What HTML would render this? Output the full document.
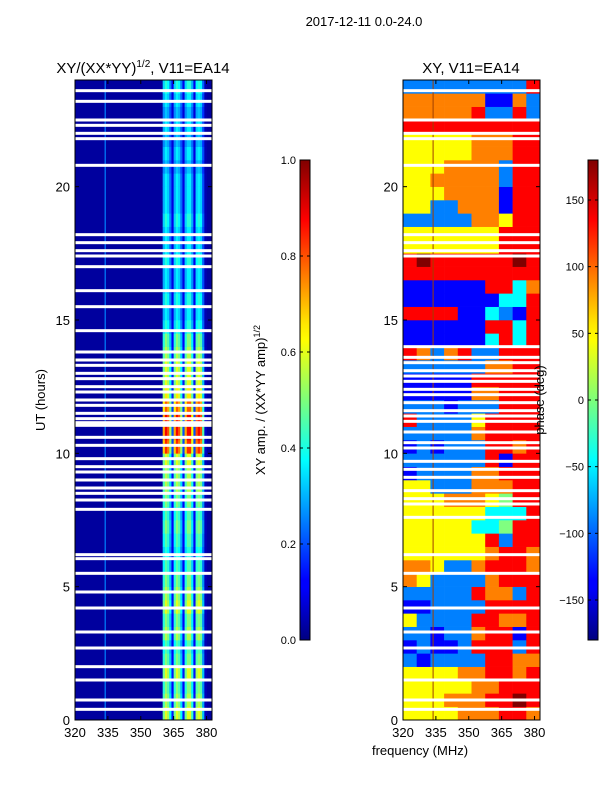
<!DOCTYPE html>
<html><head><meta charset="utf-8"><style>
body{margin:0;background:#fff;}
svg text{font-family:"Liberation Sans",sans-serif;}
</style></head><body>
<svg id="fig" width="600" height="800" xmlns="http://www.w3.org/2000/svg">
<defs>
<linearGradient id="jetg" x1="0" y1="1" x2="0" y2="0">
<stop offset="0" stop-color="#000080"/><stop offset="0.11" stop-color="#0000ff"/><stop offset="0.125" stop-color="#0000ff"/>
<stop offset="0.34" stop-color="#00dcff"/><stop offset="0.375" stop-color="#00ffff"/><stop offset="0.5" stop-color="#7dff7a"/>
<stop offset="0.625" stop-color="#ffff00"/><stop offset="0.66" stop-color="#ffe600"/><stop offset="0.875" stop-color="#ff0000"/><stop offset="1" stop-color="#800000"/>
</linearGradient>
</defs>
<text x="364" y="26" font-size="13" text-anchor="middle">2017-12-11 0.0-24.0</text>
<text x="143" y="73" font-size="15" text-anchor="middle">XY/(XX*YY)<tspan font-size="10" dy="-6">1/2</tspan><tspan dy="6">, V11=EA14</tspan></text>
<text x="471" y="73" font-size="15" text-anchor="middle">XY, V11=EA14</text>
<text x="45" y="400" font-size="13" text-anchor="middle" transform="rotate(-90 45 400)">UT (hours)</text>
<text x="420" y="755" font-size="13" text-anchor="middle">frequency (MHz)</text>
<text x="265" y="400" font-size="13" text-anchor="middle" transform="rotate(-90 265 400)">XY amp. / (XX*YY amp)<tspan font-size="9" dy="-5">1/2</tspan></text>
<g id="left"></g>
<g id="right"></g>
<g id="cb"></g>
<text x="544" y="400" font-size="13" text-anchor="middle" transform="rotate(-90 544 400)">phase (deg)</text>
</svg>
<script>
// ---- data ----
const hourTicks=[0,5,10,15,20];
const freqTicks=[320,335,350,365,380];
const ampTicks=[0.0,0.2,0.4,0.6,0.8,1.0];
const phaseTicks=[-150,-100,-50,0,50,100,150];
// bright-band level per half hour (0..24h)
const ampLevels=[0.6,0.55,0.5,0.6,0.5,0.45,0.55,0.5,0.6,0.55,0.5,0.45,0.4,0.45,0.5,0.45,0.5,0.55,0.55,0.6,0.85,0.9,0.9,0.8,0.65,0.6,0.6,0.55,0.5,0.4,0.35,0.4,0.35,0.35,0.4,0.35,0.35,0.4,0.35,0.35,0.35,0.3,0.35,0.3,0.35,0.3,0.35,0.4];
// spectral profile, 1 MHz channels starting 358 MHz
const ampProfileStart=358;
const ampProfile=[0,0,0.8,1,0.9,0.6,0.2,0.8,1,0.9,0.6,0.2,0.8,1,1,0.7,0.2,0.9,1,0.9,0.5,0.05,0,0];
const ampBase=0.03;
// flagged (white) times in hours
const flagsLeft=[0.4,0.75,1.5,2.0,2.7,3.3,4.2,4.8,5.5,6.05,6.2,7.9,8.25,8.5,8.7,9.0,9.3,9.5,9.8,10.3,10.6,11.05,11.15,11.3,11.5,11.8,12.0,12.3,12.5,12.8,13.0,13.3,13.5,13.8,14.6,15.5,16.1,17.0,17.4,17.6,17.9,18.2,20.8,21.8,22.0,22.3,22.5,23.2,23.6];
const flagsRight=[0.4,0.75,1.5,2.7,3.3,4.2,5.5,6.2,7.6,8.1,8.3,8.6,9.1,9.4,9.7,10.2,10.4,10.8,11.2,11.4,11.6,11.9,12.2,12.4,12.7,12.9,13.1,13.4,13.6,14.0,17.4,17.6,17.9,18.2,20.8,21.8,22.0,22.5,23.6];
// phase rows per half hour, 10 columns 320..382 MHz, digits 0..8 -> -180..180 deg
const phaseRows=["5555666776","5556667787","5555566777","5555667767","2122227766","1211277727","2212267717","5222277667","1122227777","2222276627","6522226777","6652267776","5555556776","5555557277","5555533477","5555553337","5556665477","5522266677","1222266777","2222227177","1212227767","2222267777","7222257777","2221222777","1111166777","1111177777","2222226677","7626722777","1111113737","1111117737","7777113217","1111111337","1111117736","7777777777","7877777787","5555555777","5555555777","2222266577","5522666177","5556666177","5566666277","5556666277","5555566677","5555566677","7777777777","6666672272","6666661162","2222222227"];
// ---- rendering ----
const NS="http://www.w3.org/2000/svg";
const Y0=720,Y1=80,F0=320,F1=382.5;
const yS=h=>Y0+(Y1-Y0)*h/24;
function xS(off,f){return off+137*(f-F0)/(F1-F0);}
function jet(v){v=Math.max(0,Math.min(1,v));const c=t=>Math.round(255*Math.max(0,Math.min(1,1.5-Math.abs(4*v-t))));return `rgb(${c(3)},${c(2)},${c(1)})`;}
function mk(p,tag,a){const e=document.createElementNS(NS,tag);for(const k in a)e.setAttribute(k,a[k]);p.appendChild(e);return e;}
const L=document.getElementById('left'),R=document.getElementById('right'),CB=document.getElementById('cb');
// left
let r=mk(L,'rect',{x:75,y:80,width:137,height:640,fill:jet(ampBase)});

mk(L,'rect',{x:xS(75,333.5),y:80,width:1.2,height:640,fill:jet(0.25)});
ampLevels.forEach((lv,i)=>{ampProfile.forEach((p,j)=>{if(p<=0)return;const f=ampProfileStart+j;
 const c=mk(L,'rect',{x:xS(75,f),y:yS(i*0.5+0.5),width:xS(75,f+1)-xS(75,f)+0.3,height:yS(i*0.5)-yS(i*0.5+0.5)+0.3,fill:jet(ampBase+lv*p*0.95)});
 });});
flagsLeft.forEach(h=>{const c=mk(L,'rect',{x:75,y:yS(h)-1.5,width:137,height:3,fill:'#fff'});
 });
// right
phaseRows.forEach((row,i)=>{for(let j=0;j<row.length;j++){const f=F0+j*(F1-F0)/row.length,f2=F0+(j+1)*(F1-F0)/row.length;
 const ph=-180+45*(+row[j]);
 const c=mk(R,'rect',{x:xS(403,f),y:yS(i*0.5+0.5),width:xS(403,f2)-xS(403,f)+0.3,height:yS(i*0.5)-yS(i*0.5+0.5)+0.3,fill:jet((ph+180)/360)});
 }});
mk(R,'rect',{x:xS(403,333.5),y:80,width:1,height:640,fill:'#a04000'});
flagsRight.forEach(h=>{const c=mk(R,'rect',{x:403,y:yS(h)-1.5,width:137,height:3,fill:'#fff'});
 });
// axes frames and ticks
[75,403].forEach((off,k)=>{
 const g=k?R:L;
 const fr=mk(g,'rect',{x:off,y:80,width:137,height:640,fill:'none',stroke:'#000','stroke-width':1});
 
 hourTicks.forEach(h=>{const y=yS(h);mk(g,'line',{x1:off,x2:off+4,y1:y,y2:y,stroke:'#000'});mk(g,'line',{x1:off+137,x2:off+133,y1:y,y2:y,stroke:'#000'});
  const t=mk(g,'text',{x:off-5,y:y+5,'font-size':13,'text-anchor':'end'});t.textContent=h;
  });
 freqTicks.forEach(f=>{const x=xS(off,f);mk(g,'line',{x1:x,x2:x,y1:720,y2:716,stroke:'#000'});mk(g,'line',{x1:x,x2:x,y1:80,y2:84,stroke:'#000'});
  const t=mk(g,'text',{x:x,y:737,'font-size':13,'text-anchor':'middle'});t.textContent=f;
  });
});
// colorbars
function colorbar(x,lo,hi,ticks,name,dec){
 const fr=mk(CB,'rect',{x:x,y:160,width:10,height:480,fill:'url(#jetg)',stroke:'#000'});
 
 ticks.forEach(v=>{const y=640-480*(v-lo)/(hi-lo);mk(CB,'line',{x1:x,x2:x+3,y1:y,y2:y,stroke:'#000'});mk(CB,'line',{x1:x+10,x2:x+7,y1:y,y2:y,stroke:'#000'});
  const t=mk(CB,'text',{x:x-4,y:y+4,'font-size':11,'text-anchor':'end'});t.textContent=dec?v.toFixed(1):String(v).replace('-','\u2212');
  });
}
colorbar(300,0,1,ampTicks,'amp-colorbar',true);
colorbar(588,-180,180,phaseTicks,'phase-colorbar',false);
</script>
</body></html>
